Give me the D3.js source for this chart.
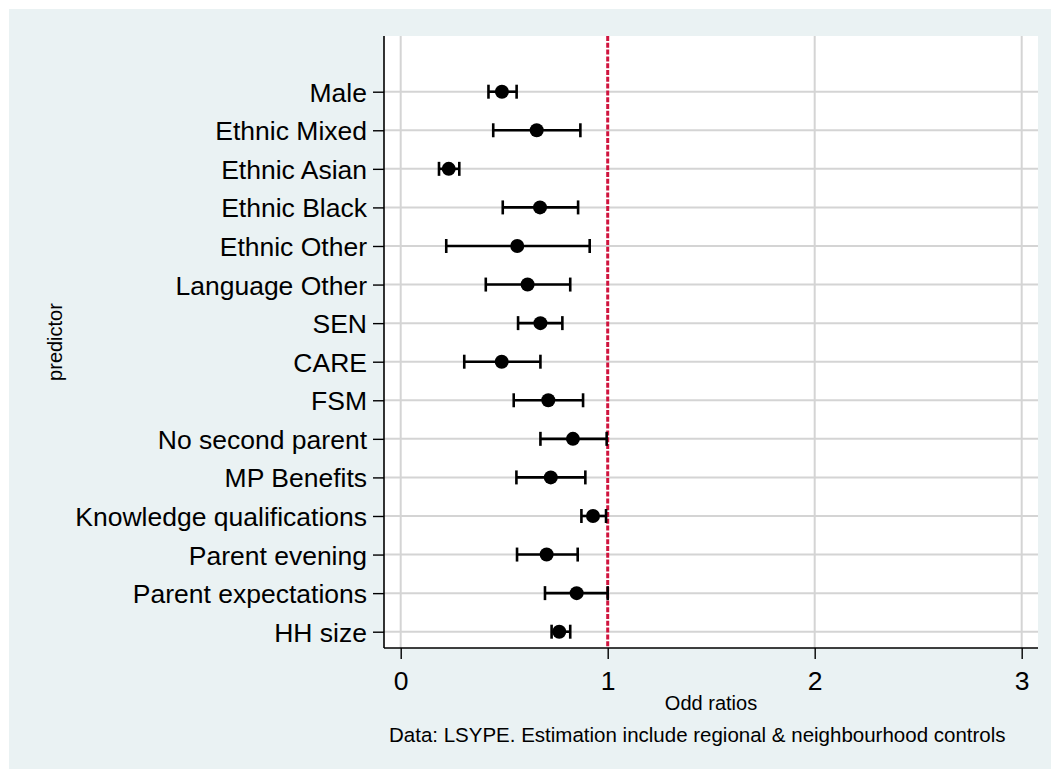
<!DOCTYPE html>
<html>
<head>
<meta charset="utf-8">
<script src="https://cdn.jsdelivr.net/npm/d3@7"></script>
<style>
  html, body { margin: 0; padding: 0; background: #ffffff; }
  svg { display: block; }
  text { font-family: "Liberation Sans", Arial, sans-serif; fill: #000; }
</style>
</head>
<body>
<svg id="chart" width="1051" height="769"></svg>
<script>
// Logistic regression odds ratios with 95% confidence intervals
const predictors = [
  "Male", "Ethnic Mixed", "Ethnic Asian", "Ethnic Black", "Ethnic Other",
  "Language Other", "SEN", "CARE", "FSM", "No second parent",
  "MP Benefits", "Knowledge qualifications", "Parent evening",
  "Parent expectations", "HH size"
];
const oddsRatio = [0.489, 0.657, 0.232, 0.673, 0.563, 0.613, 0.675, 0.488, 0.713, 0.832, 0.725, 0.929, 0.705, 0.850, 0.766];
const ciLower   = [0.424, 0.447, 0.185, 0.493, 0.220, 0.411, 0.567, 0.307, 0.546, 0.675, 0.559, 0.873, 0.562, 0.697, 0.729];
const ciUpper   = [0.560, 0.868, 0.283, 0.857, 0.913, 0.819, 0.781, 0.675, 0.881, 0.995, 0.892, 0.992, 0.855, 1.000, 0.819];
const xTicks = [0, 1, 2, 3];
const referenceValue = 1;

const xTitle = "Odd ratios";
const yTitle = "predictor";
const note = "Data: LSYPE. Estimation include regional & neighbourhood controls";

const rows = predictors.map((p, i) => ({
  name: p, or: oddsRatio[i], lo: ciLower[i], hi: ciUpper[i]
}));

const svg = d3.select("#chart");
const W = 1051, H = 769;

// plot region
const plot = { left: 384, right: 1038, top: 36, bottom: 648 };

// outer graph background
svg.append("rect")
  .attr("x", 9).attr("y", 9)
  .attr("width", W - 9).attr("height", H - 9)
  .attr("fill", "#eaf2f3");

svg.append("rect")
  .attr("x", plot.left).attr("y", plot.top)
  .attr("width", plot.right - plot.left).attr("height", plot.bottom - plot.top)
  .attr("fill", "#ffffff");

const x = d3.scaleLinear()
  .domain([-0.0807, 3.0788])
  .range([plot.left, plot.right]);

const y = d3.scalePoint()
  .domain(predictors)
  .range([91.7, 631.7]);

const gridColor = "#d4d4d4";

// vertical gridlines
svg.append("g")
  .selectAll("line")
  .data(xTicks.filter(t => t !== referenceValue))
  .join("line")
  .attr("x1", d => x(d)).attr("x2", d => x(d))
  .attr("y1", plot.top).attr("y2", plot.bottom)
  .attr("stroke", gridColor).attr("stroke-width", 2);

// horizontal gridlines
svg.append("g")
  .selectAll("line")
  .data(predictors)
  .join("line")
  .attr("x1", plot.left).attr("x2", plot.right)
  .attr("y1", d => y(d)).attr("y2", d => y(d))
  .attr("stroke", gridColor).attr("stroke-width", 2);

// reference line at OR = 1
svg.append("line")
  .attr("x1", x(referenceValue)).attr("x2", x(referenceValue))
  .attr("y1", plot.top).attr("y2", plot.bottom)
  .attr("stroke", "#d0143e")
  .attr("stroke-width", 3)
  .attr("stroke-dasharray", "5,1.8");

// confidence intervals
const ci = svg.append("g").attr("stroke", "#000").attr("stroke-width", 2.6);
ci.selectAll("line.bar")
  .data(rows)
  .join("line")
  .attr("class", "bar")
  .attr("x1", d => x(d.lo)).attr("x2", d => x(d.hi))
  .attr("y1", d => y(d.name)).attr("y2", d => y(d.name));

const capHalf = 7;
ci.selectAll("line.caplo")
  .data(rows)
  .join("line")
  .attr("class", "caplo")
  .attr("x1", d => x(d.lo)).attr("x2", d => x(d.lo))
  .attr("y1", d => y(d.name) - capHalf).attr("y2", d => y(d.name) + capHalf);
ci.selectAll("line.caphi")
  .data(rows)
  .join("line")
  .attr("class", "caphi")
  .attr("x1", d => x(d.hi)).attr("x2", d => x(d.hi))
  .attr("y1", d => y(d.name) - capHalf).attr("y2", d => y(d.name) + capHalf);

// point estimates
svg.append("g")
  .selectAll("circle")
  .data(rows)
  .join("circle")
  .attr("cx", d => x(d.or))
  .attr("cy", d => y(d.name))
  .attr("r", 7)
  .attr("fill", "#000");

// y axis
const yAxis = svg.append("g")
  .attr("transform", `translate(${plot.left},0)`)
  .call(d3.axisLeft(y).tickSize(11).tickPadding(6));
yAxis.select(".domain")
  .attr("d", `M0,${plot.top}V${plot.bottom}`)
  .attr("stroke", "#000").attr("stroke-width", 1.6);
yAxis.selectAll(".tick line").attr("stroke", "#000").attr("stroke-width", 1.4);
yAxis.selectAll(".tick text")
  .attr("font-size", 26.5)
  .attr("font-family", "Liberation Sans, Arial, sans-serif")
  .attr("fill", "#000")
  .attr("dy", "0.36em");

// x axis
const xAxis = svg.append("g")
  .attr("transform", `translate(0,${plot.bottom})`)
  .call(d3.axisBottom(x).tickValues(xTicks).tickFormat(d3.format("d")).tickSize(11).tickPadding(8));
xAxis.select(".domain")
  .attr("d", `M${plot.left},0H${plot.right}`)
  .attr("stroke", "#000").attr("stroke-width", 1.6);
xAxis.selectAll(".tick line").attr("stroke", "#000").attr("stroke-width", 1.4);
xAxis.selectAll(".tick text")
  .attr("font-size", 26.5)
  .attr("font-family", "Liberation Sans, Arial, sans-serif")
  .attr("fill", "#000")
  .attr("y", 0).attr("dy", 0)
  .attr("transform", "translate(0,42)");

// axis titles
svg.append("text")
  .attr("x", (plot.left + plot.right) / 2)
  .attr("y", 710)
  .attr("text-anchor", "middle")
  .attr("font-size", 20)
  .text(xTitle);

svg.append("text")
  .attr("transform", `translate(62,${(plot.top + plot.bottom) / 2}) rotate(-90)`)
  .attr("text-anchor", "middle")
  .attr("font-size", 20)
  .text(yTitle);

// note
svg.append("text")
  .attr("x", 389)
  .attr("y", 742)
  .attr("font-size", 20.5)
  .text(note);
</script>
</body>
</html>
